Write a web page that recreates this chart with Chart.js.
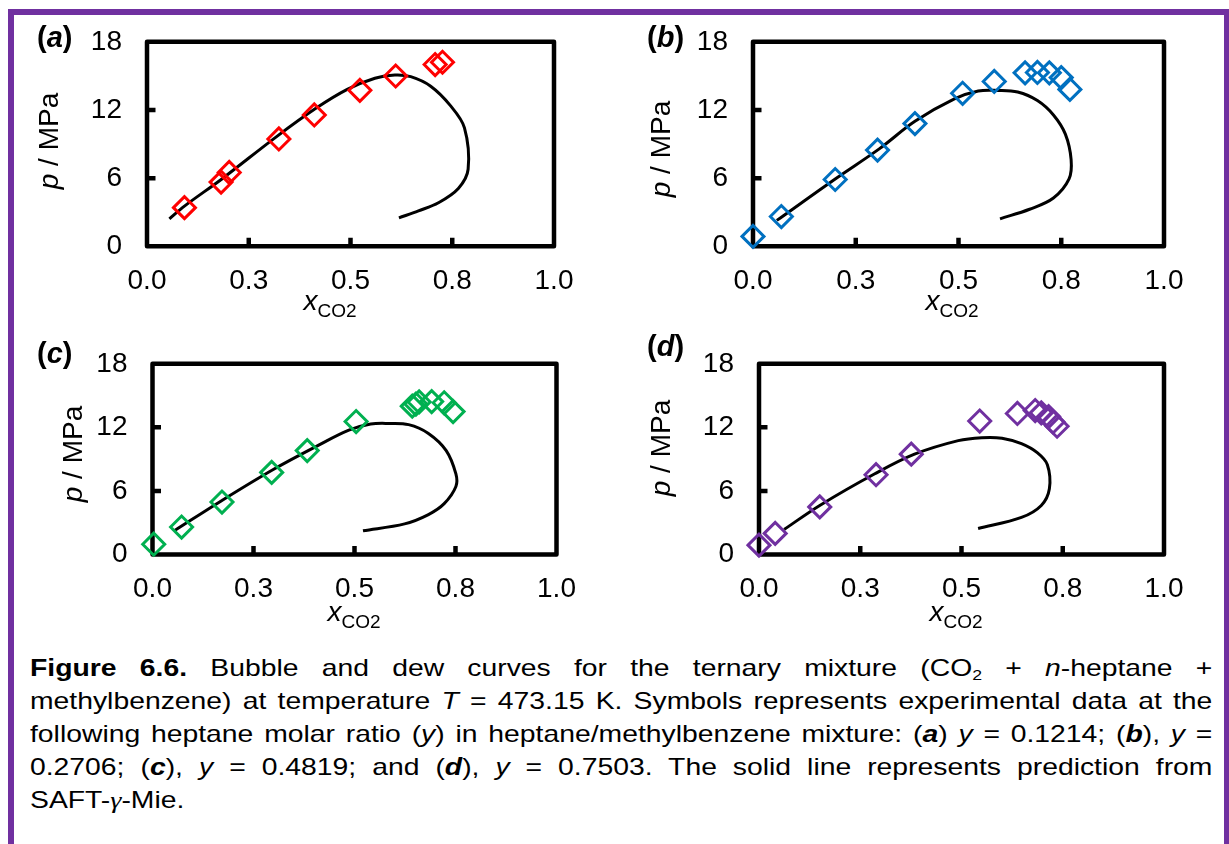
<!DOCTYPE html>
<html>
<head>
<meta charset="utf-8">
<script src="https://cdn.jsdelivr.net/npm/chart.js@4.4.0/dist/chart.umd.min.js"></script>
<style>
  body { margin: 0; width: 1229px; height: 844px; overflow: hidden; background: #fff;
         font-family: "Liberation Sans", Arial, sans-serif; color: #000; }
  .border { position: absolute; left: 8px; top: 9px; width: 1222px; height: 900px;
            box-sizing: border-box; border: 6px solid #7030a0; border-bottom: none; }
  canvas { position: absolute; }
  .tag { position: absolute; font-size: 29px; line-height: 29px; font-weight: bold; white-space: nowrap; }
  .ytitle { position: absolute; font-size: 28px; line-height: 28px; white-space: nowrap;
            transform: translate(-50%, -50%) rotate(-90deg); }
  .xtitle { position: absolute; font-size: 28px; line-height: 28px; white-space: nowrap;
            transform: translateX(-50%); }
  .xtitle sub { font-size: 19px; vertical-align: -7px; }
  .cap { position: absolute; left: 30px; top: 651px; width: 1002px; font-size: 24px; line-height: 33px;
         transform: scaleX(1.18); transform-origin: 0 0; }
  .cap .ln { text-align: justify; text-align-last: justify; }
  .cap .ln.last { text-align-last: left; }
  .cap sub { font-size: 15px; vertical-align: -4px; line-height: 0; }
  .cap .g { font-family: "Liberation Serif", serif; }
</style>
</head>
<body>
<div class="border"></div>

<canvas id="pa" width="614" height="322" style="left:0;top:0"></canvas>
<canvas id="pb" width="615" height="322" style="left:614px;top:0"></canvas>
<canvas id="pc" width="614" height="318" style="left:0;top:322px"></canvas>
<canvas id="pd" width="615" height="318" style="left:614px;top:322px"></canvas>

<div class="tag" style="left:37px;top:23px">(<i>a</i>)</div>
<div class="tag" style="left:647px;top:23px">(<i>b</i>)</div>
<div class="tag" style="left:37px;top:339px">(<i>c</i>)</div>
<div class="tag" style="left:647px;top:332px">(<i>d</i>)</div>

<div class="ytitle" style="left:49px;top:141px"><i>p</i> / MPa</div>
<div class="ytitle" style="left:661px;top:149px"><i>p</i> / MPa</div>
<div class="ytitle" style="left:73px;top:454px"><i>p</i> / MPa</div>
<div class="ytitle" style="left:661px;top:448px"><i>p</i> / MPa</div>

<div class="xtitle" style="left:330px;top:287px"><i>x</i><sub>CO2</sub></div>
<div class="xtitle" style="left:952px;top:287px"><i>x</i><sub>CO2</sub></div>
<div class="xtitle" style="left:354px;top:598px"><i>x</i><sub>CO2</sub></div>
<div class="xtitle" style="left:956px;top:598px"><i>x</i><sub>CO2</sub></div>

<div class="cap">
  <div class="ln"><b>Figure 6.6.</b> Bubble and dew curves for the ternary mixture (CO<sub>2</sub> + <i>n</i>-heptane +</div>
  <div class="ln">methylbenzene) at temperature <i>T</i> = 473.15 K. Symbols represents experimental data at the</div>
  <div class="ln">following heptane molar ratio (<i>y</i>) in heptane/methylbenzene mixture: (<b><i>a</i></b>) <i>y</i> = 0.1214; (<b><i>b</i></b>), <i>y</i> =</div>
  <div class="ln">0.2706; (<b><i>c</i></b>), <i>y</i> = 0.4819; and (<b><i>d</i></b>), <i>y</i> = 0.7503. The solid line represents prediction from</div>
  <div class="ln last">SAFT-<i class="g">γ</i>-Mie.</div>
</div>

<script>
// axes
const xTicks = [0, 0.25, 0.5, 0.75, 1];
const xTickLabels = ['0.0', '0.3', '0.5', '0.8', '1.0'];
const yTicks = [0, 6, 12, 18];

// (a) y = 0.1214
const aExpX = [0.092, 0.182, 0.202, 0.324, 0.411, 0.523, 0.611, 0.708, 0.726];
const aExpP = [3.40, 5.65, 6.50, 9.45, 11.56, 13.73, 14.99, 16.0, 16.2];
const aLineX = [0.055, 0.092, 0.184, 0.316, 0.414, 0.492, 0.560, 0.609, 0.648, 0.697, 0.745, 0.780, 0.789, 0.765, 0.716, 0.667, 0.619];
const aLineP = [2.42, 3.54, 5.93, 9.59, 12.12, 13.81, 14.79, 15.08, 14.93, 14.09, 12.40, 10.43, 6.78, 5.09, 3.83, 3.12, 2.50];

// (b) y = 0.2706
const bExpX = [0.0, 0.069, 0.200, 0.303, 0.394, 0.510, 0.587, 0.662, 0.692, 0.721, 0.750, 0.771];
const bExpP = [0.87, 2.62, 5.88, 8.47, 10.80, 13.47, 14.51, 15.27, 15.30, 15.27, 14.85, 13.81];
const bLineX = [0.058, 0.200, 0.308, 0.394, 0.490, 0.548, 0.596, 0.644, 0.692, 0.731, 0.760, 0.774, 0.769, 0.731, 0.673, 0.601];
const bLineP = [2.28, 5.93, 8.60, 11.00, 12.97, 13.67, 13.72, 13.58, 12.83, 11.56, 9.87, 7.62, 5.93, 4.25, 3.26, 2.42];

// (c) y = 0.4819
const cExpX = [0.003, 0.072, 0.172, 0.295, 0.383, 0.504, 0.643, 0.652, 0.660, 0.691, 0.722, 0.744];
const cExpP = [0.97, 2.59, 4.95, 7.75, 9.81, 12.55, 14.00, 14.20, 14.40, 14.43, 14.32, 13.49];
const cLineX = [0.054, 0.172, 0.300, 0.408, 0.486, 0.540, 0.584, 0.634, 0.683, 0.727, 0.751, 0.751, 0.722, 0.683, 0.624, 0.521];
const cLineP = [2.24, 5.10, 8.04, 10.25, 11.73, 12.31, 12.37, 12.26, 11.43, 9.81, 7.60, 6.42, 4.80, 3.77, 2.89, 2.24];

// (d) y = 0.7503
const dExpX = [0.0, 0.040, 0.150, 0.289, 0.376, 0.545, 0.638, 0.682, 0.697, 0.715, 0.726, 0.736];
const dExpP = [0.88, 1.99, 4.49, 7.53, 9.47, 12.60, 13.31, 13.59, 13.37, 13.02, 12.51, 12.11];
const dLineX = [0.062, 0.150, 0.286, 0.384, 0.492, 0.550, 0.600, 0.648, 0.687, 0.712, 0.717, 0.697, 0.648, 0.541];
const dLineP = [2.36, 4.63, 7.62, 9.47, 10.75, 11.03, 10.98, 10.46, 9.61, 8.47, 6.20, 4.63, 3.50, 2.45];

const tickFont = { family: '"Liberation Sans", Arial, sans-serif', size: 28 };

const toPoints = (xs, ps) => xs.map((v, i) => ({ x: v, y: ps[i] }));

// heavy box round the plot area plus short inward tick marks
const boxPlugin = {
  id: 'box',
  beforeDatasetsDraw(chart) {
    const { ctx, chartArea: a, scales: { x, y } } = chart;
    ctx.save();
    ctx.strokeStyle = '#000';
    ctx.lineWidth = 4.5;
    ctx.lineJoin = 'round';
    ctx.strokeRect(a.left, a.top, a.right - a.left, a.bottom - a.top);
    ctx.beginPath();
    x.ticks.slice(1, -1).forEach(t => {
      const px = x.getPixelForValue(t.value);
      ctx.moveTo(px, a.bottom);
      ctx.lineTo(px, a.bottom - 8.5);
    });
    y.ticks.slice(1, -1).forEach(t => {
      const py = y.getPixelForValue(t.value);
      ctx.moveTo(a.left, py);
      ctx.lineTo(a.left + 8.5, py);
    });
    ctx.stroke();
    ctx.restore();
  }
};

// area = plot box in page pixels, off = canvas position on the page
function makePanel(id, off, area, expX, expP, lineX, lineP, color) {
  const cv = document.getElementById(id);
  const yW = 80, xH = 60;
  new Chart(cv, {
    type: 'scatter',
    data: {
      datasets: [
        {
          data: toPoints(expX, expP),
          pointStyle: 'rectRot',
          pointRadius: 11,
          borderWidth: 3,
          borderColor: color,
          backgroundColor: 'rgba(0,0,0,0)',
          showLine: false,
          clip: false
        },
        {
          data: toPoints(lineX, lineP),
          showLine: true,
          borderColor: '#000',
          borderWidth: 3,
          pointRadius: 0,
          tension: 0.35,
          fill: false,
          clip: false
        }
      ]
    },
    options: {
      responsive: false,
      animation: false,
      devicePixelRatio: 1,
      layout: {
        padding: {
          left: area.l - off.x - yW,
          top: area.t - off.y,
          right: off.x + cv.width - area.r,
          bottom: off.y + cv.height - area.b - xH
        }
      },
      plugins: { legend: { display: false }, tooltip: { enabled: false } },
      scales: {
        x: {
          type: 'linear', min: 0, max: 1,
          afterBuildTicks: s => { s.ticks = xTicks.map(v => ({ value: v })); },
          afterFit: s => { s.height = xH; },
          grid: { display: false, drawTicks: false },
          border: { display: false },
          ticks: { autoSkip: false, maxRotation: 0, padding: 18, color: '#000', font: tickFont,
                   callback: (v, i) => xTickLabels[i] }
        },
        y: {
          type: 'linear', min: 0, max: 18,
          afterBuildTicks: s => { s.ticks = yTicks.map(v => ({ value: v })); },
          afterFit: s => { s.width = yW; },
          grid: { display: false, drawTicks: false },
          border: { display: false },
          ticks: { autoSkip: false, padding: 25, color: '#000', font: tickFont,
                   callback: v => String(v) }
        }
      }
    },
    plugins: [boxPlugin]
  });
}

makePanel('pa', { x: 0, y: 0 }, { l: 147, t: 34.5, r: 554, b: 246.3 }, aExpX, aExpP, aLineX, aLineP, '#ff0000');
makePanel('pb', { x: 614, y: 0 }, { l: 753, t: 34.5, r: 1164, b: 246.3 }, bExpX, bExpP, bLineX, bLineP, '#0070c0');
makePanel('pc', { x: 0, y: 322 }, { l: 152.5, t: 352, r: 556.5, b: 554.5 }, cExpX, cExpP, cLineX, cLineP, '#00b050');
makePanel('pd', { x: 614, y: 322 }, { l: 759, t: 345, r: 1164, b: 554.5 }, dExpX, dExpP, dLineX, dLineP, '#7030a0');
</script>
</body>
</html>
